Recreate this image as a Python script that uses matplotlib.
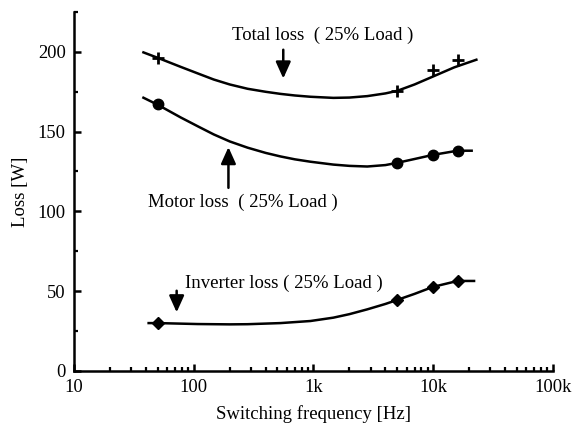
import numpy as np
import matplotlib
matplotlib.use('Agg')
import matplotlib.pyplot as plt
from matplotlib.ticker import FixedLocator, NullFormatter

# ── Measured points (markers) ──
meas_freq = [50, 5000, 10000, 16000]
total_meas = [196, 175.5, 188.7, 195]
motor_meas = [167, 130.4, 135.4, 138]
inverter_meas = [30, 44.5, 52.7, 56.4]

# ── Fitted curves ──
total_curve_f = [38, 50, 78, 110, 147, 200, 282, 400, 531, 700, 944, 1468, 2000, 2818,
                 4000, 5012, 7000, 10000, 15000, 23000]
total_curve_y = [199.6, 196.2, 190.5, 186.2, 182.6, 179.5, 176.8, 174.9, 173.6, 172.6,
                 171.8, 171.1, 171.3, 172.2, 173.9, 175.5, 179.5, 184.5, 190.2, 195]

motor_curve_f = [38, 50, 78, 110, 147, 200, 282, 400, 531, 700, 944, 1468, 2000, 2818,
                 4000, 5012, 7000, 10000, 16000, 21000]
motor_curve_y = [171.2, 166.8, 158.8, 153.0, 148.2, 143.8, 139.9, 136.6, 134.4, 132.6,
                 131.1, 129.3, 128.5, 128.1, 129.0, 130.4, 132.8, 135.4, 138, 138]

inverter_curve_f = [42, 50, 108, 200, 282, 531, 944, 1468, 2000, 2818, 4000, 5012,
                    7000, 10000, 16000, 22000]
inverter_curve_y = [30, 30, 29.4, 29.2, 29.3, 30.0, 31.3, 33.4, 35.6, 38.6, 42.0, 44.5,
                    48.3, 52.7, 56.4, 56.4]

plt.rcParams['font.family'] = ['Liberation Serif', 'DejaVu Serif']

fig = plt.figure(figsize=(5.74, 4.23), dpi=100)
ax = fig.add_axes([0.129, 0.123, 0.834, 0.849])

lw = 1.8
ax.plot(total_curve_f, total_curve_y, color='black', lw=lw)
ax.plot(motor_curve_f, motor_curve_y, color='black', lw=lw)
ax.plot(inverter_curve_f, inverter_curve_y, color='black', lw=lw)

ax.plot(meas_freq, total_meas, ls='none', marker='+', ms=9, mew=2, color='black')
ax.plot(meas_freq, motor_meas, ls='none', marker='o', ms=7.5, color='black')
ax.plot(meas_freq, inverter_meas, ls='none', marker='D', ms=6, color='black')

ax.set_xscale('log')
ax.set_xlim(10, 100000)
ax.set_ylim(0, 225)
ax.set_yticks([0, 50, 100, 150, 200])
ax.yaxis.set_minor_locator(FixedLocator([25, 75, 125, 175, 225]))
ax.set_xticks([10, 100, 1000, 10000, 100000])
ax.set_xticklabels(['10', '100', '1k', '10k', '100k'])
ax.xaxis.set_minor_formatter(NullFormatter())

for s in ['top', 'right']:
    ax.spines[s].set_visible(False)
for s in ['left', 'bottom']:
    ax.spines[s].set_linewidth(1.8)

ax.tick_params(axis='both', which='major', direction='in', length=5, width=1.8,
               labelsize=13.3, pad=6)
ax.tick_params(axis='both', which='minor', direction='in', length=3, width=1.6)

ax.set_xlabel('Switching frequency [Hz]', fontsize=13.5, labelpad=6)
ax.set_ylabel('Loss [W]', fontsize=13.5, labelpad=6)

arrow = dict(arrowstyle='-|>,head_width=0.45,head_length=1.0', color='black', lw=1.8)

# annotations
ax.text(1200, 210, 'Total loss  ( 25% Load )', fontsize=13.5, ha='center', va='center')
ax.annotate('', xy=(560, 181.5), xytext=(560, 203), arrowprops=arrow)

ax.text(256, 105.5, 'Motor loss  ( 25% Load )', fontsize=13.5, ha='center', va='center')
ax.annotate('', xy=(195, 142), xytext=(195, 113), arrowprops=arrow)

ax.text(84, 55, 'Inverter loss ( 25% Load )', fontsize=13.5, ha='left', va='center')
ax.annotate('', xy=(72, 35), xytext=(72, 52), arrowprops=arrow)

plt.savefig('out.png', dpi=100)
